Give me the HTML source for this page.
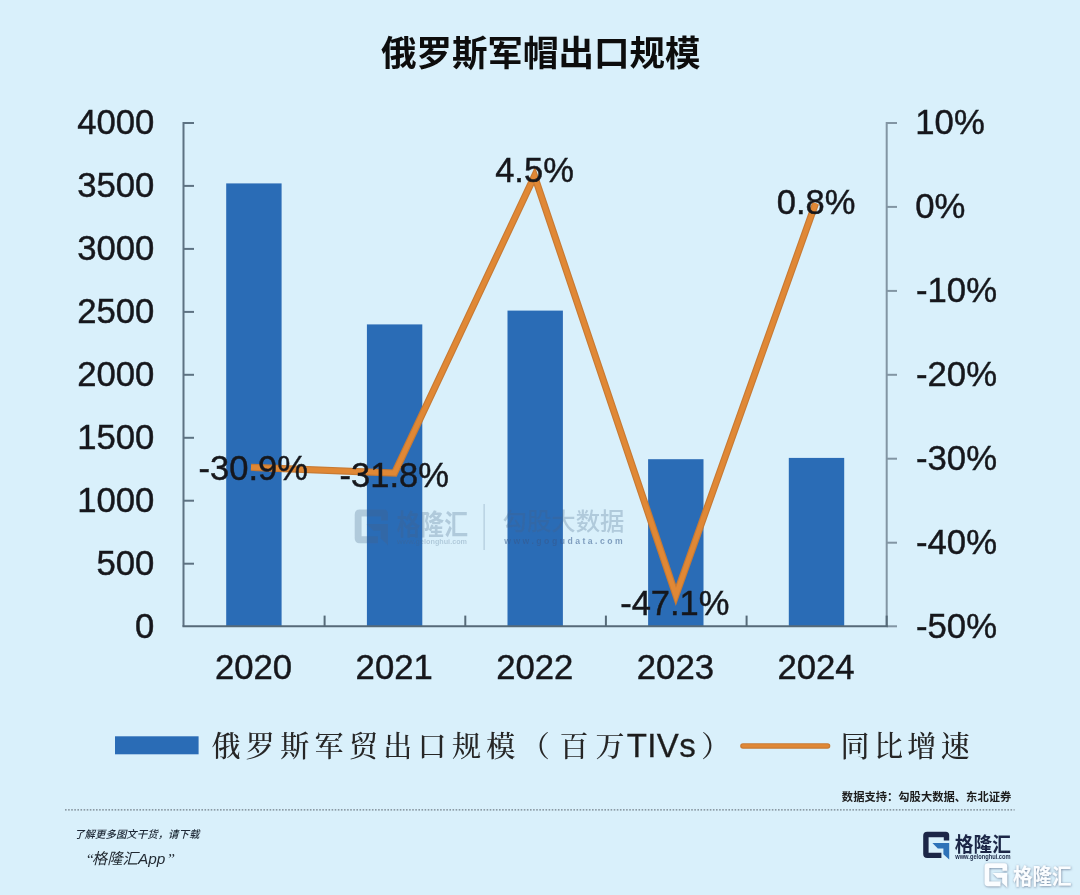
<!DOCTYPE html>
<html lang="zh-CN"><head><meta charset="utf-8"><title>俄罗斯军帽出口规模</title>
<style>
html,body{margin:0;padding:0;background:#d9f0fb;}
body{width:1080px;height:895px;overflow:hidden;position:relative;font-family:"Liberation Sans","Noto Sans CJK SC",sans-serif;}
svg{position:absolute;left:0;top:0;display:block}
.num{font-family:"Liberation Sans",sans-serif;font-size:34.7px;fill:#16191c;stroke:#16191c;stroke-width:.45px}
.kai{font-family:"Liberation Serif","Noto Serif CJK SC",serif;font-size:29px;fill:#262626;font-weight:500;letter-spacing:5.35px}
.lat{font-family:"Liberation Sans",sans-serif;font-size:33px;fill:#1e1e1e;letter-spacing:.4px;font-weight:400;stroke:#1e1e1e;stroke-width:.3px}
.dl{font-size:34.5px}
</style></head><body>
<svg width="1080" height="895" viewBox="0 0 1080 895">
<defs>
<filter id="soft" x="-5%" y="-5%" width="110%" height="110%"><feGaussianBlur stdDeviation="0.55"/></filter>
<filter id="soft2" x="-5%" y="-20%" width="110%" height="140%"><feGaussianBlur stdDeviation="0.35"/></filter>
<filter id="wsh" x="-10%" y="-20%" width="120%" height="150%"><feDropShadow dx="0.4" dy="0.6" stdDeviation="0.9" flood-color="#6f819b" flood-opacity="1"/></filter>
<g id="gC"><path d="M4 0H22.5Q26 0 26 3.5V8.6H20.6V5.4H5.4V20.9H18.2V26.3H4Q0 26.3 0 22.3V4Q0 0 4 0Z"/></g>
<g id="gA"><path d="M9.2 11.2H26V27.8L20.2 22.4V16.6H14.6Z"/></g>
</defs>
<rect width="1080" height="895" fill="#d9f0fb"/>
<g filter="url(#soft)">
<text x="540.8" y="66.3" text-anchor="middle" style="font-family:'Liberation Sans','Noto Sans CJK SC',sans-serif;font-weight:700;font-size:35.5px;fill:#0d0d0d">俄罗斯军帽出口规模</text>

<rect x="226.2" y="183.4" width="55.4" height="443.2" fill="#2c6cb6"/>
<rect x="366.9" y="324.4" width="55.4" height="302.2" fill="#2c6cb6"/>
<rect x="507.5" y="310.6" width="55.4" height="316.0" fill="#2c6cb6"/>
<rect x="648.1" y="459.2" width="55.4" height="167.4" fill="#2c6cb6"/>
<rect x="788.8" y="457.9" width="55.4" height="168.7" fill="#2c6cb6"/>
<g opacity="0.26" fill="#3f5f80">
<g transform="translate(354.7 509.6) scale(1.28)"><use href="#gC"/><use href="#gA"/></g>
<text x="396.5" y="535" style="font-family:'Liberation Sans','Noto Sans CJK SC',sans-serif;font-weight:700;font-size:28px" textLength="71.5" lengthAdjust="spacingAndGlyphs">格隆汇</text>
<text x="397" y="543.8" style="font-family:'Liberation Sans','Noto Sans CJK SC',sans-serif;font-weight:700;font-size:7px" textLength="70" lengthAdjust="spacingAndGlyphs">www.gelonghui.com</text>
<rect x="483.5" y="504" width="1.2" height="46"/>
<text x="502.5" y="530.2" style="font-family:'Liberation Sans','Noto Sans CJK SC',sans-serif;font-weight:500;font-size:24px" textLength="122" lengthAdjust="spacingAndGlyphs">勾股大数据</text>
</g>
<text x="504.2" y="544.3" opacity="0.55" fill="#34598c" style="font-family:'Liberation Sans','Noto Sans CJK SC',sans-serif;font-weight:700;font-size:8.6px" textLength="118.5" lengthAdjust="spacing">www.gogudata.com</text>
<g stroke-width="2" fill="none">
<path d="M183.5 122V626.6" stroke="#5d7282"/>
<path d="M886.7 122V626.6" stroke="#8295a3"/>
<path d="M886.7 626.3000000000001h10.3" stroke="#8295a3"/>
<path d="M182.5 626.3000000000001H887.8000000000001" stroke="#566a78" stroke-width="2.1"/>
<path d="M183.5 123.0h10.5" stroke="#5d7282"/>
<path d="M183.5 185.9h10.5" stroke="#5d7282"/>
<path d="M183.5 248.9h10.5" stroke="#5d7282"/>
<path d="M183.5 311.9h10.5" stroke="#5d7282"/>
<path d="M183.5 374.8h10.5" stroke="#5d7282"/>
<path d="M183.5 437.8h10.5" stroke="#5d7282"/>
<path d="M183.5 500.7h10.5" stroke="#5d7282"/>
<path d="M183.5 563.7h10.5" stroke="#5d7282"/>
<path d="M886.7 123.0h10.3" stroke="#8295a3"/>
<path d="M886.7 206.9h10.3" stroke="#8295a3"/>
<path d="M886.7 290.9h10.3" stroke="#8295a3"/>
<path d="M886.7 374.8h10.3" stroke="#8295a3"/>
<path d="M886.7 458.7h10.3" stroke="#8295a3"/>
<path d="M886.7 542.7h10.3" stroke="#8295a3"/>
<path d="M324.6 626.6v-11" stroke="#566a78"/>
<path d="M465.3 626.6v-11" stroke="#566a78"/>
<path d="M605.9 626.6v-11" stroke="#566a78"/>
<path d="M746.6 626.6v-11" stroke="#566a78"/>
<path d="M886.7 626.6v-11" stroke="#566a78"/>
</g>
<text class="num" x="154.3" y="134.2" text-anchor="end">4000</text>
<text class="num" x="154.3" y="197.1" text-anchor="end">3500</text>
<text class="num" x="154.3" y="260.1" text-anchor="end">3000</text>
<text class="num" x="154.3" y="323.1" text-anchor="end">2500</text>
<text class="num" x="154.3" y="386.0" text-anchor="end">2000</text>
<text class="num" x="154.3" y="448.9" text-anchor="end">1500</text>
<text class="num" x="154.3" y="511.9" text-anchor="end">1000</text>
<text class="num" x="154.3" y="574.9" text-anchor="end">500</text>
<text class="num" x="154.3" y="637.8" text-anchor="end">0</text>
<text class="num" x="915.3" y="133.9">10%</text>
<text class="num" x="915.3" y="217.8">0%</text>
<text class="num" x="916" y="301.8">-10%</text>
<text class="num" x="916" y="385.7">-20%</text>
<text class="num" x="916" y="469.6">-30%</text>
<text class="num" x="916" y="553.6">-40%</text>
<text class="num" x="916" y="637.5">-50%</text>
<text class="num" x="253.5" y="678.9" text-anchor="middle">2020</text>
<text class="num" x="394.2" y="678.9" text-anchor="middle">2021</text>
<text class="num" x="534.8" y="678.9" text-anchor="middle">2022</text>
<text class="num" x="675.4" y="678.9" text-anchor="middle">2023</text>
<text class="num" x="816.1" y="678.9" text-anchor="middle">2024</text>
<polyline points="251,467.3 394.5,473 534.5,176 675.9,595.2 815.6,203.3" fill="none" stroke="#c87a33" stroke-width="7.1" stroke-linejoin="miter" stroke-miterlimit="10"/>
<polyline points="251,467.3 394.5,473 534.5,176 675.9,595.2 815.6,203.3" fill="none" stroke="#e08836" stroke-width="4.8" stroke-linejoin="miter" stroke-miterlimit="10"/>
<text class="num dl" x="253.2" y="479.6" text-anchor="middle">-30.9%</text>
<text class="num dl" x="394.2" y="487.2" text-anchor="middle">-31.8%</text>
<text class="num dl" x="534.5" y="182.2" text-anchor="middle">4.5%</text>
<text class="num dl" x="674.8" y="614.6" text-anchor="middle">-47.1%</text>
<text class="num dl" x="816.1" y="213.6" text-anchor="middle">0.8%</text>
<rect x="115" y="736.3" width="83.6" height="18" fill="#2c6cb6"/>
<text class="kai" x="211.5" y="756.5">俄罗斯军贸出口规模（<tspan dx="4.5" style="letter-spacing:7px">百万</tspan><tspan class="lat" dx="-4.9">TIVs</tspan><tspan dx="5.3">）</tspan></text>
<path d="M743 746H827.5" stroke="#c87a33" stroke-width="5.6" stroke-linecap="round"/><path d="M743 745.8H827.5" stroke="#e08836" stroke-width="3.2" stroke-linecap="round"/>
<text class="kai" x="840.5" y="756.5" style="letter-spacing:4.4px">同比增速</text>
</g>
<g filter="url(#soft2)">
<text x="1011.3" y="801.3" text-anchor="end" style="font-family:'Liberation Sans','Noto Sans CJK SC',sans-serif;font-weight:700;font-size:11.3px;fill:#1d1d1d">数据支持：勾股大数据、东北证券</text>
<text x="74.2" y="838.3" style="font-family:'Liberation Sans','Noto Sans CJK SC',sans-serif;font-style:italic;font-weight:500;font-size:10.45px;fill:#1c2734">了解更多图文干货，请下载</text>
<text x="85.6" y="864" style="font-family:'Liberation Sans','Noto Sans CJK SC',sans-serif;font-style:italic;font-size:15.4px;fill:#232b33"><tspan style="font-family:'Liberation Serif','Noto Sans CJK SC',sans-serif">“</tspan><tspan x="91.8">格隆汇App</tspan><tspan x="166.6" style="font-family:'Liberation Serif','Noto Sans CJK SC',sans-serif">”</tspan></text>
<g transform="translate(923.2 831.8) scale(1.0)"><use href="#gC" fill="#1b2746"/><use href="#gA" fill="#2f72b8"/></g>
<text x="954.8" y="851.7" style="font-family:'Liberation Sans','Noto Sans CJK SC',sans-serif;font-weight:700;font-size:20.6px;fill:#1b2746" textLength="56" lengthAdjust="spacingAndGlyphs">格隆汇</text>
<text x="955.2" y="859.1" style="font-family:'Liberation Sans','Noto Sans CJK SC',sans-serif;font-weight:700;font-size:6.3px;fill:#1b2746" textLength="55.4" lengthAdjust="spacingAndGlyphs">www.gelonghui.com</text>
</g>
<g filter="url(#wsh)" fill="#fbfdff">
<g transform="translate(984.6 863.3) scale(0.87)"><use href="#gC"/><use href="#gA"/></g>
<text x="1013" y="883.5" style="font-family:'Liberation Sans','Noto Sans CJK SC',sans-serif;font-weight:700;font-size:21.6px" textLength="58.6" lengthAdjust="spacingAndGlyphs">格隆汇</text>
</g>
<path d="M65 809.9H1014.6" stroke="#727e88" stroke-width="1.25" stroke-dasharray="1.6 1.5"/>
</svg></body></html>
